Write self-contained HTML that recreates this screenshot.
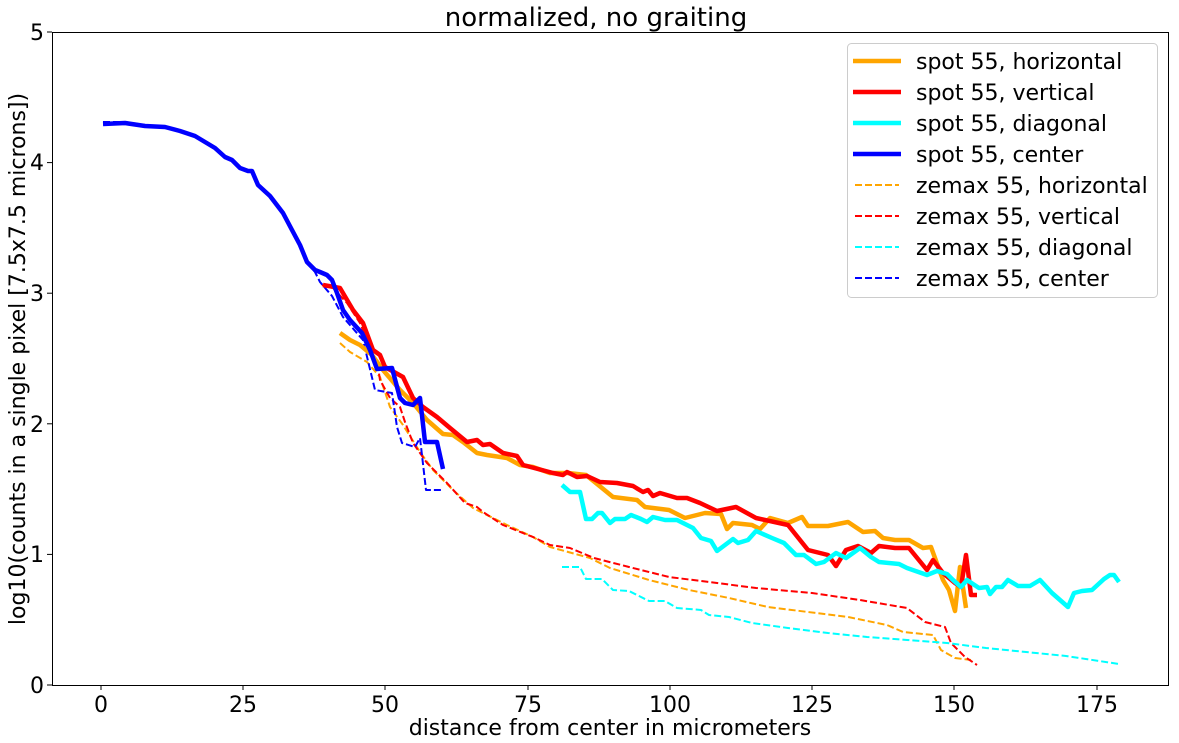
<!DOCTYPE html>
<html><head><meta charset="utf-8"><style>
html,body{margin:0;padding:0;background:#fff;}
svg{display:block;font-family:"DejaVu Sans","Liberation Sans",sans-serif;}
</style></head><body>
<svg width="1179" height="743" viewBox="0 0 1179 743" xmlns="http://www.w3.org/2000/svg">
<rect width="1179" height="743" fill="#fff"/>
<text x="596" y="26" font-size="26" text-anchor="middle">normalized, no graiting</text>
<g fill="none" stroke-linejoin="round">
<polyline stroke="#ffa500" stroke-width="2" stroke-dasharray="7,3" points="340,343 350,352 367,362 380,377 390,407 403,425 420,452 433,470 453,490 473,508 507,525 533,537 550,547 590,558 610,568 649,580 689,590 729,598 768,607 808,612 848,617 887,625 903,632 933,635 941,650 955,658 971,660"/>
<polyline stroke="#ff0000" stroke-width="2" stroke-dasharray="7,3" points="322,285 333,288 347,303 360,323 378,367 380,380 390,398 400,407 405,422 413,443 427,463 447,483 465,503 477,507 483,512 503,525 533,537 550,545 570,548 594,558 629,567 669,577 717,583 756,588 812,593 860,600 907,608 925,622 945,627 951,643 965,657 977,665"/>
<polyline stroke="#00ffff" stroke-width="2" stroke-dasharray="7,3" points="562,567 580,567 586,579 602,579 613,590 629,591 649,601 665,601 677,608 701,610 709,615 729,617 752,623 788,628 828,633 867,637 907,640 947,643 986,648 1026,652 1066,656 1119,664"/>
<polyline stroke="#0000ff" stroke-width="2" stroke-dasharray="7,3" points="103,122 125,122 145,125 165,127 180,131 195,136 205,142 215,148 225,157 232,160 240,168 248,171 252,171 258,185 270,196 283,213 292,230 300,245 307,262 315,272 320,282 332,296 343,317 363,340 375,390 392,393 397,427 402,443 415,447 420,438 426,490 443,490"/>
<polyline stroke="#ffa500" stroke-width="4.5" points="340,333 350,340 360,345 372,355 383,370 400,390 413,403 427,420 443,434 453,435 463,442 477,453 487,455 507,458 520,465 533,467 550,473 568,473 586,475 602,488 613,497 637,500 645,507 669,510 685,518 705,513 721,514 727,529 733,523 752,525 760,529 770,518 788,523 802,517 808,526 828,526 848,522 863,532 875,531 883,538 895,540 909,540 923,548 931,547 943,580 949,590 955,611 960,567 966,608"/>
<polyline stroke="#ff0000" stroke-width="4.5" points="323,285 340,288 353,310 363,323 373,350 380,355 385,367 403,377 413,398 423,407 437,417 450,428 467,442 477,440 483,445 490,444 503,453 517,456 523,465 553,473 563,475 567,472 577,477 587,476 600,482 617,483 633,486 643,492 648,490 653,496 660,493 677,498 687,498 700,503 717,511 736,507 756,518 788,525 808,550 828,555 836,566 846,550 858,546 871,553 879,546 895,548 909,548 927,570 933,560 943,573 955,583 961,587 966,555 971,595 977,595"/>
<polyline stroke="#00ffff" stroke-width="4.5" points="562,485 570,492 580,492 586,519 592,519 598,513 602,513 610,523 615,519 625,519 631,515 641,519 647,522 653,517 665,520 677,520 693,528 701,538 711,541 717,551 733,539 738,543 748,540 756,531 772,538 784,543 796,555 804,555 816,564 824,562 836,553 846,558 860,548 871,557 879,562 899,564 907,568 927,575 937,571 947,574 953,580 961,587 967,580 979,588 987,587 990,594 996,587 1002,587 1008,580 1018,586 1030,586 1040,580 1052,593 1060,600 1068,607 1074,593 1082,591 1092,590 1104,579 1110,575 1114,575 1119,582"/>
<polyline stroke="#0000ff" stroke-width="4.5" points="103,124 125,123 145,126 165,127 180,131 195,136 205,142 215,148 225,157 232,160 240,168 248,171 252,171 258,185 270,196 283,213 292,230 300,245 307,262 315,270 320,272 327,275 332,280 337,293 343,310 350,320 362,333 370,350 377,369 392,368 400,398 405,403 413,405 420,398 425,442 437,442 443,469"/>
</g>
<rect x="52.5" y="32.5" width="1116" height="653" fill="none" stroke="#000" stroke-width="1"/>
<g stroke="#000" stroke-width="1">
<line x1="101" y1="685" x2="101" y2="690"/><line x1="243" y1="685" x2="243" y2="690"/><line x1="385" y1="685" x2="385" y2="690"/><line x1="528" y1="685" x2="528" y2="690"/><line x1="670" y1="685" x2="670" y2="690"/><line x1="812" y1="685" x2="812" y2="690"/><line x1="954" y1="685" x2="954" y2="690"/><line x1="1097" y1="685" x2="1097" y2="690"/>
<line x1="47" y1="685" x2="52" y2="685"/><line x1="47" y1="554.4" x2="52" y2="554.4"/><line x1="47" y1="423.8" x2="52" y2="423.8"/><line x1="47" y1="293.2" x2="52" y2="293.2"/><line x1="47" y1="162.6" x2="52" y2="162.6"/><line x1="47" y1="32" x2="52" y2="32"/>
</g>
<g font-size="22" text-anchor="middle">
<text x="101" y="712">0</text><text x="243" y="712">25</text><text x="385" y="712">50</text><text x="528" y="712">75</text><text x="670" y="712">100</text><text x="812" y="712">125</text><text x="954" y="712">150</text><text x="1097" y="712">175</text>
</g>
<g font-size="22" text-anchor="end">
<text x="44" y="693">0</text><text x="44" y="562">1</text><text x="44" y="432">2</text><text x="44" y="301">3</text><text x="44" y="170">4</text><text x="44" y="40">5</text>
</g>
<text x="610" y="735" font-size="22" text-anchor="middle">distance from center in micrometers</text>
<text transform="translate(25,359) rotate(-90)" font-size="22" text-anchor="middle">log10(counts in a single pixel [7.5x7.5 microns])</text>
<rect x="847.5" y="43.5" width="310" height="254" rx="4" fill="#fff" fill-opacity="0.8" stroke="#ccc"/>
<g stroke-width="4.5">
<line x1="853" y1="61" x2="901" y2="61" stroke="#ffa500"/>
<line x1="853" y1="92" x2="901" y2="92" stroke="#ff0000"/>
<line x1="853" y1="123" x2="901" y2="123" stroke="#00ffff"/>
<line x1="853" y1="154" x2="901" y2="154" stroke="#0000ff"/>
</g>
<g stroke-width="2" stroke-dasharray="7,3">
<line x1="855" y1="185" x2="899" y2="185" stroke="#ffa500"/>
<line x1="855" y1="216" x2="899" y2="216" stroke="#ff0000"/>
<line x1="855" y1="247" x2="899" y2="247" stroke="#00ffff"/>
<line x1="855" y1="278" x2="899" y2="278" stroke="#0000ff"/>
</g>
<g font-size="22">
<text x="916" y="69">spot 55, horizontal</text>
<text x="916" y="100">spot 55, vertical</text>
<text x="916" y="131">spot 55, diagonal</text>
<text x="916" y="162">spot 55, center</text>
<text x="916" y="193">zemax 55, horizontal</text>
<text x="916" y="224">zemax 55, vertical</text>
<text x="916" y="255">zemax 55, diagonal</text>
<text x="916" y="286">zemax 55, center</text>
</g>
</svg>
</body></html>
